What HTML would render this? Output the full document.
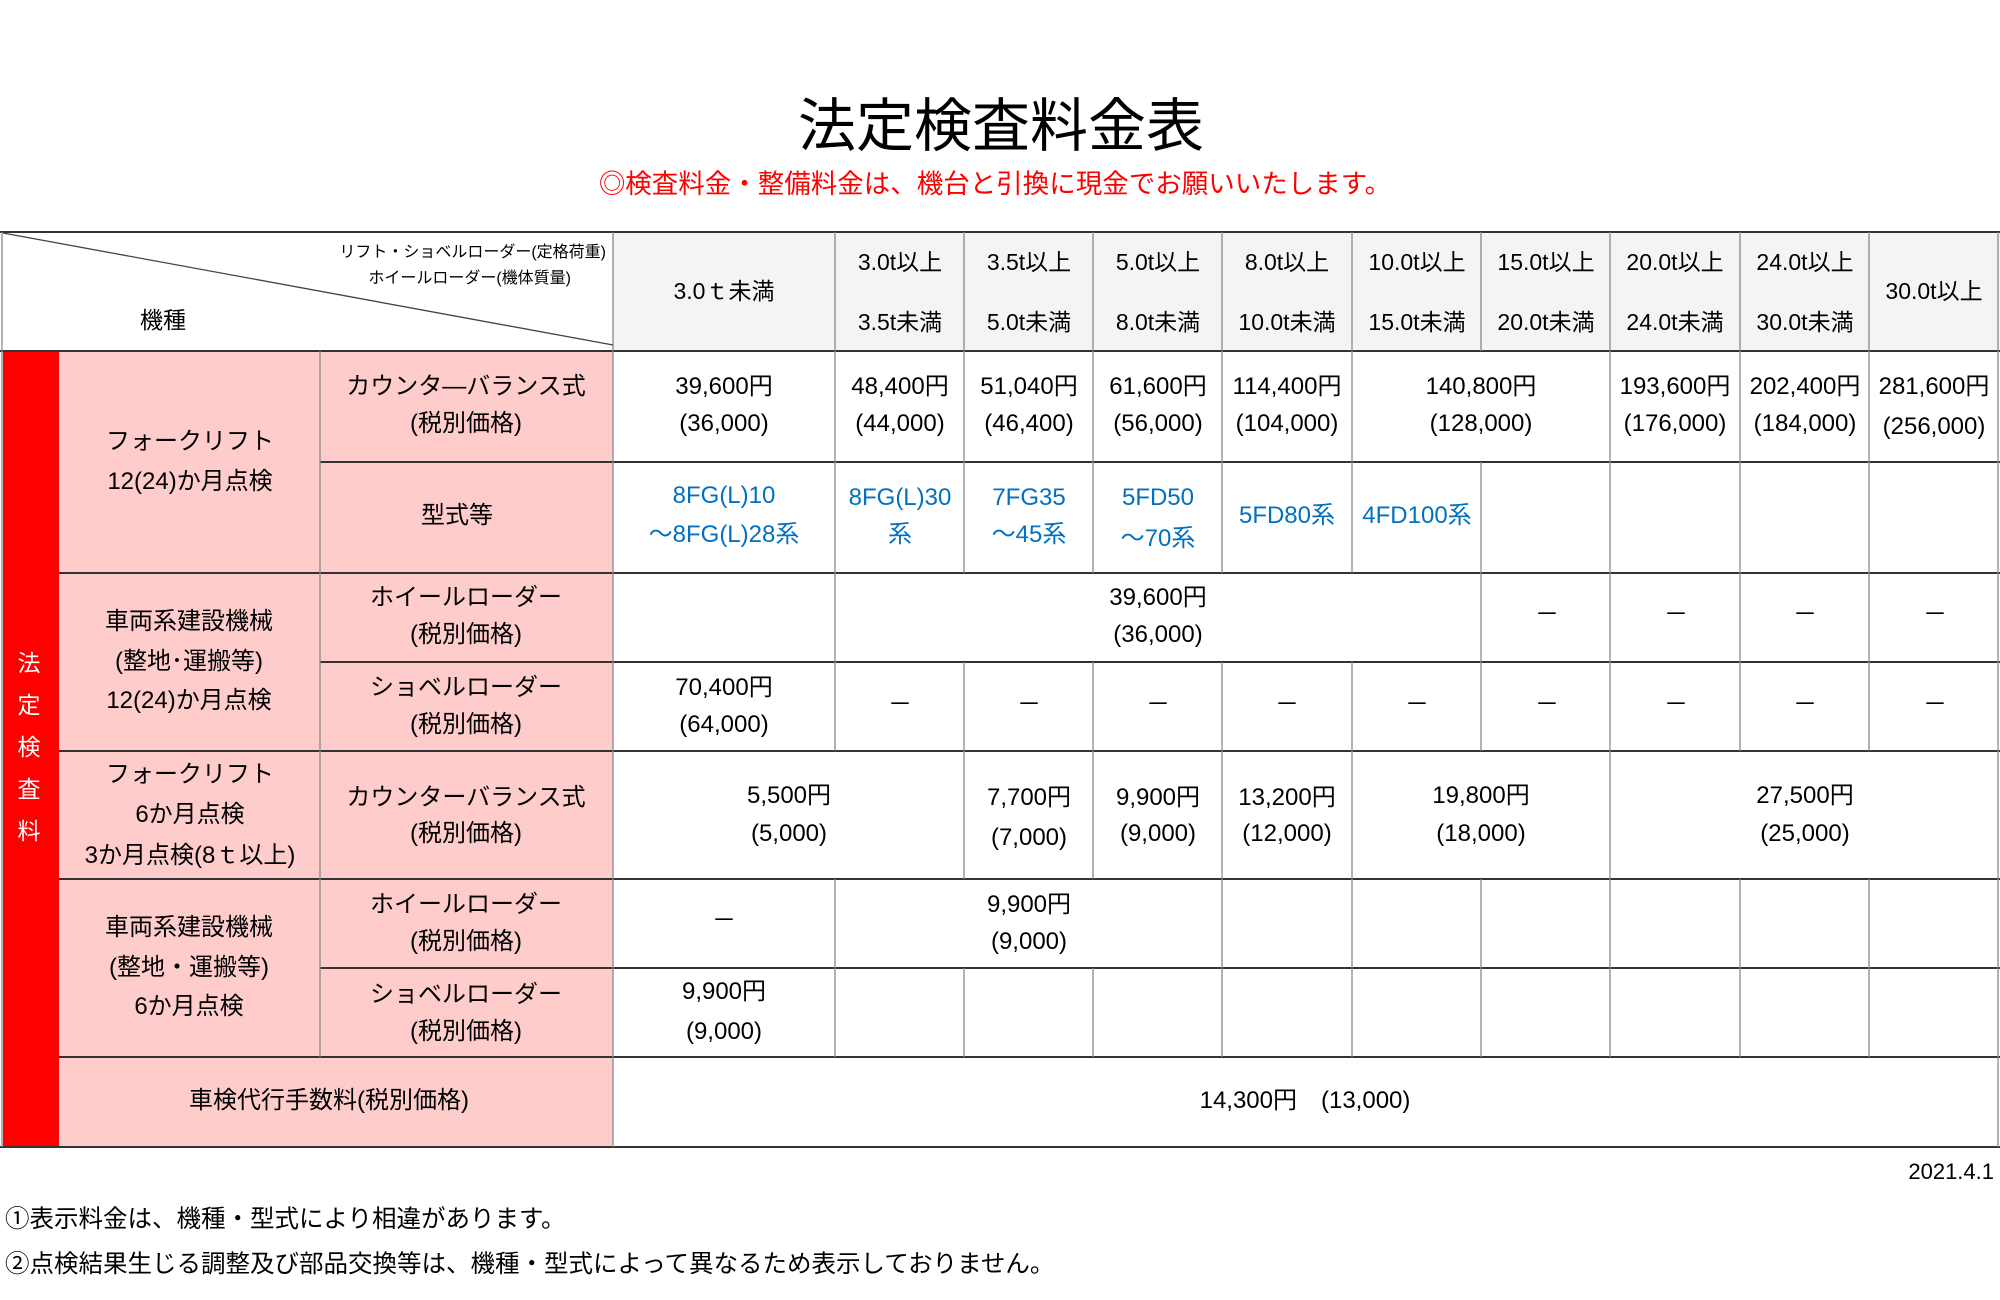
<!DOCTYPE html>
<html><head><meta charset="utf-8"><style>
html,body{margin:0;padding:0;background:#fff;}
svg{display:block;}
text{font-family:"Liberation Sans","Noto Sans CJK JP",sans-serif;}
</style></head><body>
<svg width="2000" height="1300" viewBox="0 0 2000 1300" xmlns="http://www.w3.org/2000/svg">
<rect width="2000" height="1300" fill="#fff"/>
<text x="1001" y="146" font-size="58" text-anchor="middle" fill="#000">法定検査料金表</text>
<text x="995" y="193" font-size="26.5" text-anchor="middle" fill="#ff0000">◎検査料金・整備料金は、機台と引換に現金でお願いいたします。</text>

<rect x="613" y="232" width="1387" height="119" fill="#f4f4f4"/>
<rect x="59" y="351" width="554" height="796" fill="#ffcccc"/>
<rect x="3" y="351" width="56" height="796" fill="#ff0000"/>

<g stroke="#333" stroke-width="2">
<line x1="0" y1="232" x2="2000" y2="232"/>
<line x1="0" y1="351" x2="2000" y2="351"/>
<line x1="320" y1="462" x2="2000" y2="462"/>
<line x1="59" y1="573" x2="2000" y2="573"/>
<line x1="320" y1="662" x2="2000" y2="662"/>
<line x1="59" y1="751" x2="2000" y2="751"/>
<line x1="59" y1="879" x2="2000" y2="879"/>
<line x1="320" y1="968" x2="2000" y2="968"/>
<line x1="59" y1="1057" x2="2000" y2="1057"/>
<line x1="0" y1="1147" x2="2000" y2="1147"/>
</g>
<g stroke="#888" stroke-width="1.3">
<line x1="2" y1="232" x2="2" y2="1147"/>
<line x1="1998" y1="232" x2="1998" y2="1147"/>
<line x1="613" y1="232" x2="613" y2="1147"/>
<line x1="320" y1="351" x2="320" y2="1057"/>
<line x1="835" y1="232" x2="835" y2="351"/>
<line x1="964" y1="232" x2="964" y2="351"/>
<line x1="1093" y1="232" x2="1093" y2="351"/>
<line x1="1222" y1="232" x2="1222" y2="351"/>
<line x1="1352" y1="232" x2="1352" y2="351"/>
<line x1="1481" y1="232" x2="1481" y2="351"/>
<line x1="1610" y1="232" x2="1610" y2="351"/>
<line x1="1740" y1="232" x2="1740" y2="351"/>
<line x1="1869" y1="232" x2="1869" y2="351"/>
<line x1="835" y1="351" x2="835" y2="462"/>
<line x1="964" y1="351" x2="964" y2="462"/>
<line x1="1093" y1="351" x2="1093" y2="462"/>
<line x1="1222" y1="351" x2="1222" y2="462"/>
<line x1="1352" y1="351" x2="1352" y2="462"/>
<line x1="1610" y1="351" x2="1610" y2="462"/>
<line x1="1740" y1="351" x2="1740" y2="462"/>
<line x1="1869" y1="351" x2="1869" y2="462"/>
<line x1="835" y1="462" x2="835" y2="573"/>
<line x1="964" y1="462" x2="964" y2="573"/>
<line x1="1093" y1="462" x2="1093" y2="573"/>
<line x1="1222" y1="462" x2="1222" y2="573"/>
<line x1="1352" y1="462" x2="1352" y2="573"/>
<line x1="1481" y1="462" x2="1481" y2="573"/>
<line x1="1610" y1="462" x2="1610" y2="573"/>
<line x1="1740" y1="462" x2="1740" y2="573"/>
<line x1="1869" y1="462" x2="1869" y2="573"/>
<line x1="835" y1="573" x2="835" y2="662"/>
<line x1="1481" y1="573" x2="1481" y2="662"/>
<line x1="1610" y1="573" x2="1610" y2="662"/>
<line x1="1740" y1="573" x2="1740" y2="662"/>
<line x1="1869" y1="573" x2="1869" y2="662"/>
<line x1="835" y1="662" x2="835" y2="751"/>
<line x1="964" y1="662" x2="964" y2="751"/>
<line x1="1093" y1="662" x2="1093" y2="751"/>
<line x1="1222" y1="662" x2="1222" y2="751"/>
<line x1="1352" y1="662" x2="1352" y2="751"/>
<line x1="1481" y1="662" x2="1481" y2="751"/>
<line x1="1610" y1="662" x2="1610" y2="751"/>
<line x1="1740" y1="662" x2="1740" y2="751"/>
<line x1="1869" y1="662" x2="1869" y2="751"/>
<line x1="964" y1="751" x2="964" y2="879"/>
<line x1="1093" y1="751" x2="1093" y2="879"/>
<line x1="1222" y1="751" x2="1222" y2="879"/>
<line x1="1352" y1="751" x2="1352" y2="879"/>
<line x1="1610" y1="751" x2="1610" y2="879"/>
<line x1="835" y1="879" x2="835" y2="968"/>
<line x1="1222" y1="879" x2="1222" y2="968"/>
<line x1="1352" y1="879" x2="1352" y2="968"/>
<line x1="1481" y1="879" x2="1481" y2="968"/>
<line x1="1610" y1="879" x2="1610" y2="968"/>
<line x1="1740" y1="879" x2="1740" y2="968"/>
<line x1="1869" y1="879" x2="1869" y2="968"/>
<line x1="835" y1="968" x2="835" y2="1057"/>
<line x1="964" y1="968" x2="964" y2="1057"/>
<line x1="1093" y1="968" x2="1093" y2="1057"/>
<line x1="1222" y1="968" x2="1222" y2="1057"/>
<line x1="1352" y1="968" x2="1352" y2="1057"/>
<line x1="1481" y1="968" x2="1481" y2="1057"/>
<line x1="1610" y1="968" x2="1610" y2="1057"/>
<line x1="1740" y1="968" x2="1740" y2="1057"/>
<line x1="1869" y1="968" x2="1869" y2="1057"/>
</g>
<line x1="3" y1="233" x2="613" y2="345" stroke="#444" stroke-width="1.3"/>

<g font-size="16" text-anchor="end" fill="#000">
<text x="606" y="257">リフト・ショベルローダー(定格荷重)</text>
<text x="571" y="283">ホイールローダー(機体質量)</text>
</g>
<g font-size="23" text-anchor="middle" fill="#000">
<text x="163" y="328">機種</text>
<text x="724" y="299">3.0ｔ未満</text>
<text x="900" y="270">3.0t以上</text><text x="900" y="330">3.5t未満</text>
<text x="1029" y="270">3.5t以上</text><text x="1029" y="330">5.0t未満</text>
<text x="1158" y="270">5.0t以上</text><text x="1158" y="330">8.0t未満</text>
<text x="1287" y="270">8.0t以上</text><text x="1287" y="330">10.0t未満</text>
<text x="1417" y="270">10.0t以上</text><text x="1417" y="330">15.0t未満</text>
<text x="1546" y="270">15.0t以上</text><text x="1546" y="330">20.0t未満</text>
<text x="1675" y="270">20.0t以上</text><text x="1675" y="330">24.0t未満</text>
<text x="1805" y="270">24.0t以上</text><text x="1805" y="330">30.0t未満</text>
<text x="1934" y="299">30.0t以上</text>
</g>

<g font-size="23" text-anchor="middle" fill="#fff">
<text x="29" y="671">法</text>
<text x="29" y="713">定</text>
<text x="29" y="755">検</text>
<text x="29" y="797">査</text>
<text x="29" y="839">料</text>
</g>

<g font-size="24" text-anchor="middle" fill="#000">
<text x="190" y="449">フォークリフト</text>
<text x="190" y="489">12(24)か月点検</text>
<text x="189" y="629">車両系建設機械</text>
<text x="189" y="669">(整地･運搬等)</text>
<text x="189" y="708">12(24)か月点検</text>
<text x="190" y="782">フォークリフト</text>
<text x="190" y="822">6か月点検</text>
<text x="190" y="863">3か月点検(8ｔ以上)</text>
<text x="189" y="935">車両系建設機械</text>
<text x="189" y="975">(整地・運搬等)</text>
<text x="189" y="1014">6か月点検</text>
<text x="466" y="394">カウンタ―バランス式</text>
<text x="466" y="431">(税別価格)</text>
<text x="457" y="523">型式等</text>
<text x="466" y="605">ホイールローダー</text>
<text x="466" y="642">(税別価格)</text>
<text x="466" y="695">ショベルローダー</text>
<text x="466" y="732">(税別価格)</text>
<text x="466" y="805">カウンターバランス式</text>
<text x="466" y="841">(税別価格)</text>
<text x="466" y="912">ホイールローダー</text>
<text x="466" y="949">(税別価格)</text>
<text x="466" y="1002">ショベルローダー</text>
<text x="466" y="1039">(税別価格)</text>
<text x="329" y="1108">車検代行手数料(税別価格)</text>
</g>

<g font-size="24" text-anchor="middle" fill="#000">
<text x="724" y="394">39,600円</text><text x="724" y="431">(36,000)</text>
<text x="900" y="394">48,400円</text><text x="900" y="431">(44,000)</text>
<text x="1029" y="394">51,040円</text><text x="1029" y="431">(46,400)</text>
<text x="1158" y="394">61,600円</text><text x="1158" y="431">(56,000)</text>
<text x="1287" y="394">114,400円</text><text x="1287" y="431">(104,000)</text>
<text x="1481" y="394">140,800円</text><text x="1481" y="431">(128,000)</text>
<text x="1675" y="394">193,600円</text><text x="1675" y="431">(176,000)</text>
<text x="1805" y="394">202,400円</text><text x="1805" y="431">(184,000)</text>
<text x="1934" y="394">281,600円</text><text x="1934" y="434">(256,000)</text>

<text x="1158" y="605">39,600円</text><text x="1158" y="642">(36,000)</text>
<text x="1547" y="622">－</text><text x="1676" y="622">－</text><text x="1805" y="622">－</text><text x="1935" y="622">－</text>

<text x="724" y="695">70,400円</text><text x="724" y="732">(64,000)</text>
<text x="900" y="712">－</text><text x="1029" y="712">－</text><text x="1158" y="712">－</text><text x="1287" y="712">－</text><text x="1417" y="712">－</text>
<text x="1547" y="712">－</text><text x="1676" y="712">－</text><text x="1805" y="712">－</text><text x="1935" y="712">－</text>

<text x="789" y="803">5,500円</text><text x="789" y="841">(5,000)</text>
<text x="1029" y="805">7,700円</text><text x="1029" y="845">(7,000)</text>
<text x="1158" y="805">9,900円</text><text x="1158" y="841">(9,000)</text>
<text x="1287" y="805">13,200円</text><text x="1287" y="841">(12,000)</text>
<text x="1481" y="803">19,800円</text><text x="1481" y="841">(18,000)</text>
<text x="1805" y="803">27,500円</text><text x="1805" y="841">(25,000)</text>

<text x="724" y="928">－</text>
<text x="1029" y="912">9,900円</text><text x="1029" y="949">(9,000)</text>
<text x="724" y="999">9,900円</text><text x="724" y="1039">(9,000)</text>
<text x="1305" y="1108">14,300円　(13,000)</text>
</g>
<g font-size="24" text-anchor="middle" fill="#0070c0">
<text x="724" y="503">8FG(L)10</text><text x="724" y="542">～8FG(L)28系</text>
<text x="900" y="505">8FG(L)30</text><text x="900" y="542">系</text>
<text x="1029" y="505">7FG35</text><text x="1029" y="542">～45系</text>
<text x="1158" y="505">5FD50</text><text x="1158" y="546">～70系</text>
<text x="1287" y="523">5FD80系</text>
<text x="1417" y="523">4FD100系</text>
</g>

<g fill="#000">
<text x="1994" y="1179" text-anchor="end" font-size="22">2021.4.1</text>
<text x="5" y="1227" font-size="24.5">①表示料金は、機種・型式により相違があります。</text>
<text x="5" y="1272" font-size="24.5">②点検結果生じる調整及び部品交換等は、機種・型式によって異なるため表示しておりません。</text>
</g>
</svg>
</body></html>
